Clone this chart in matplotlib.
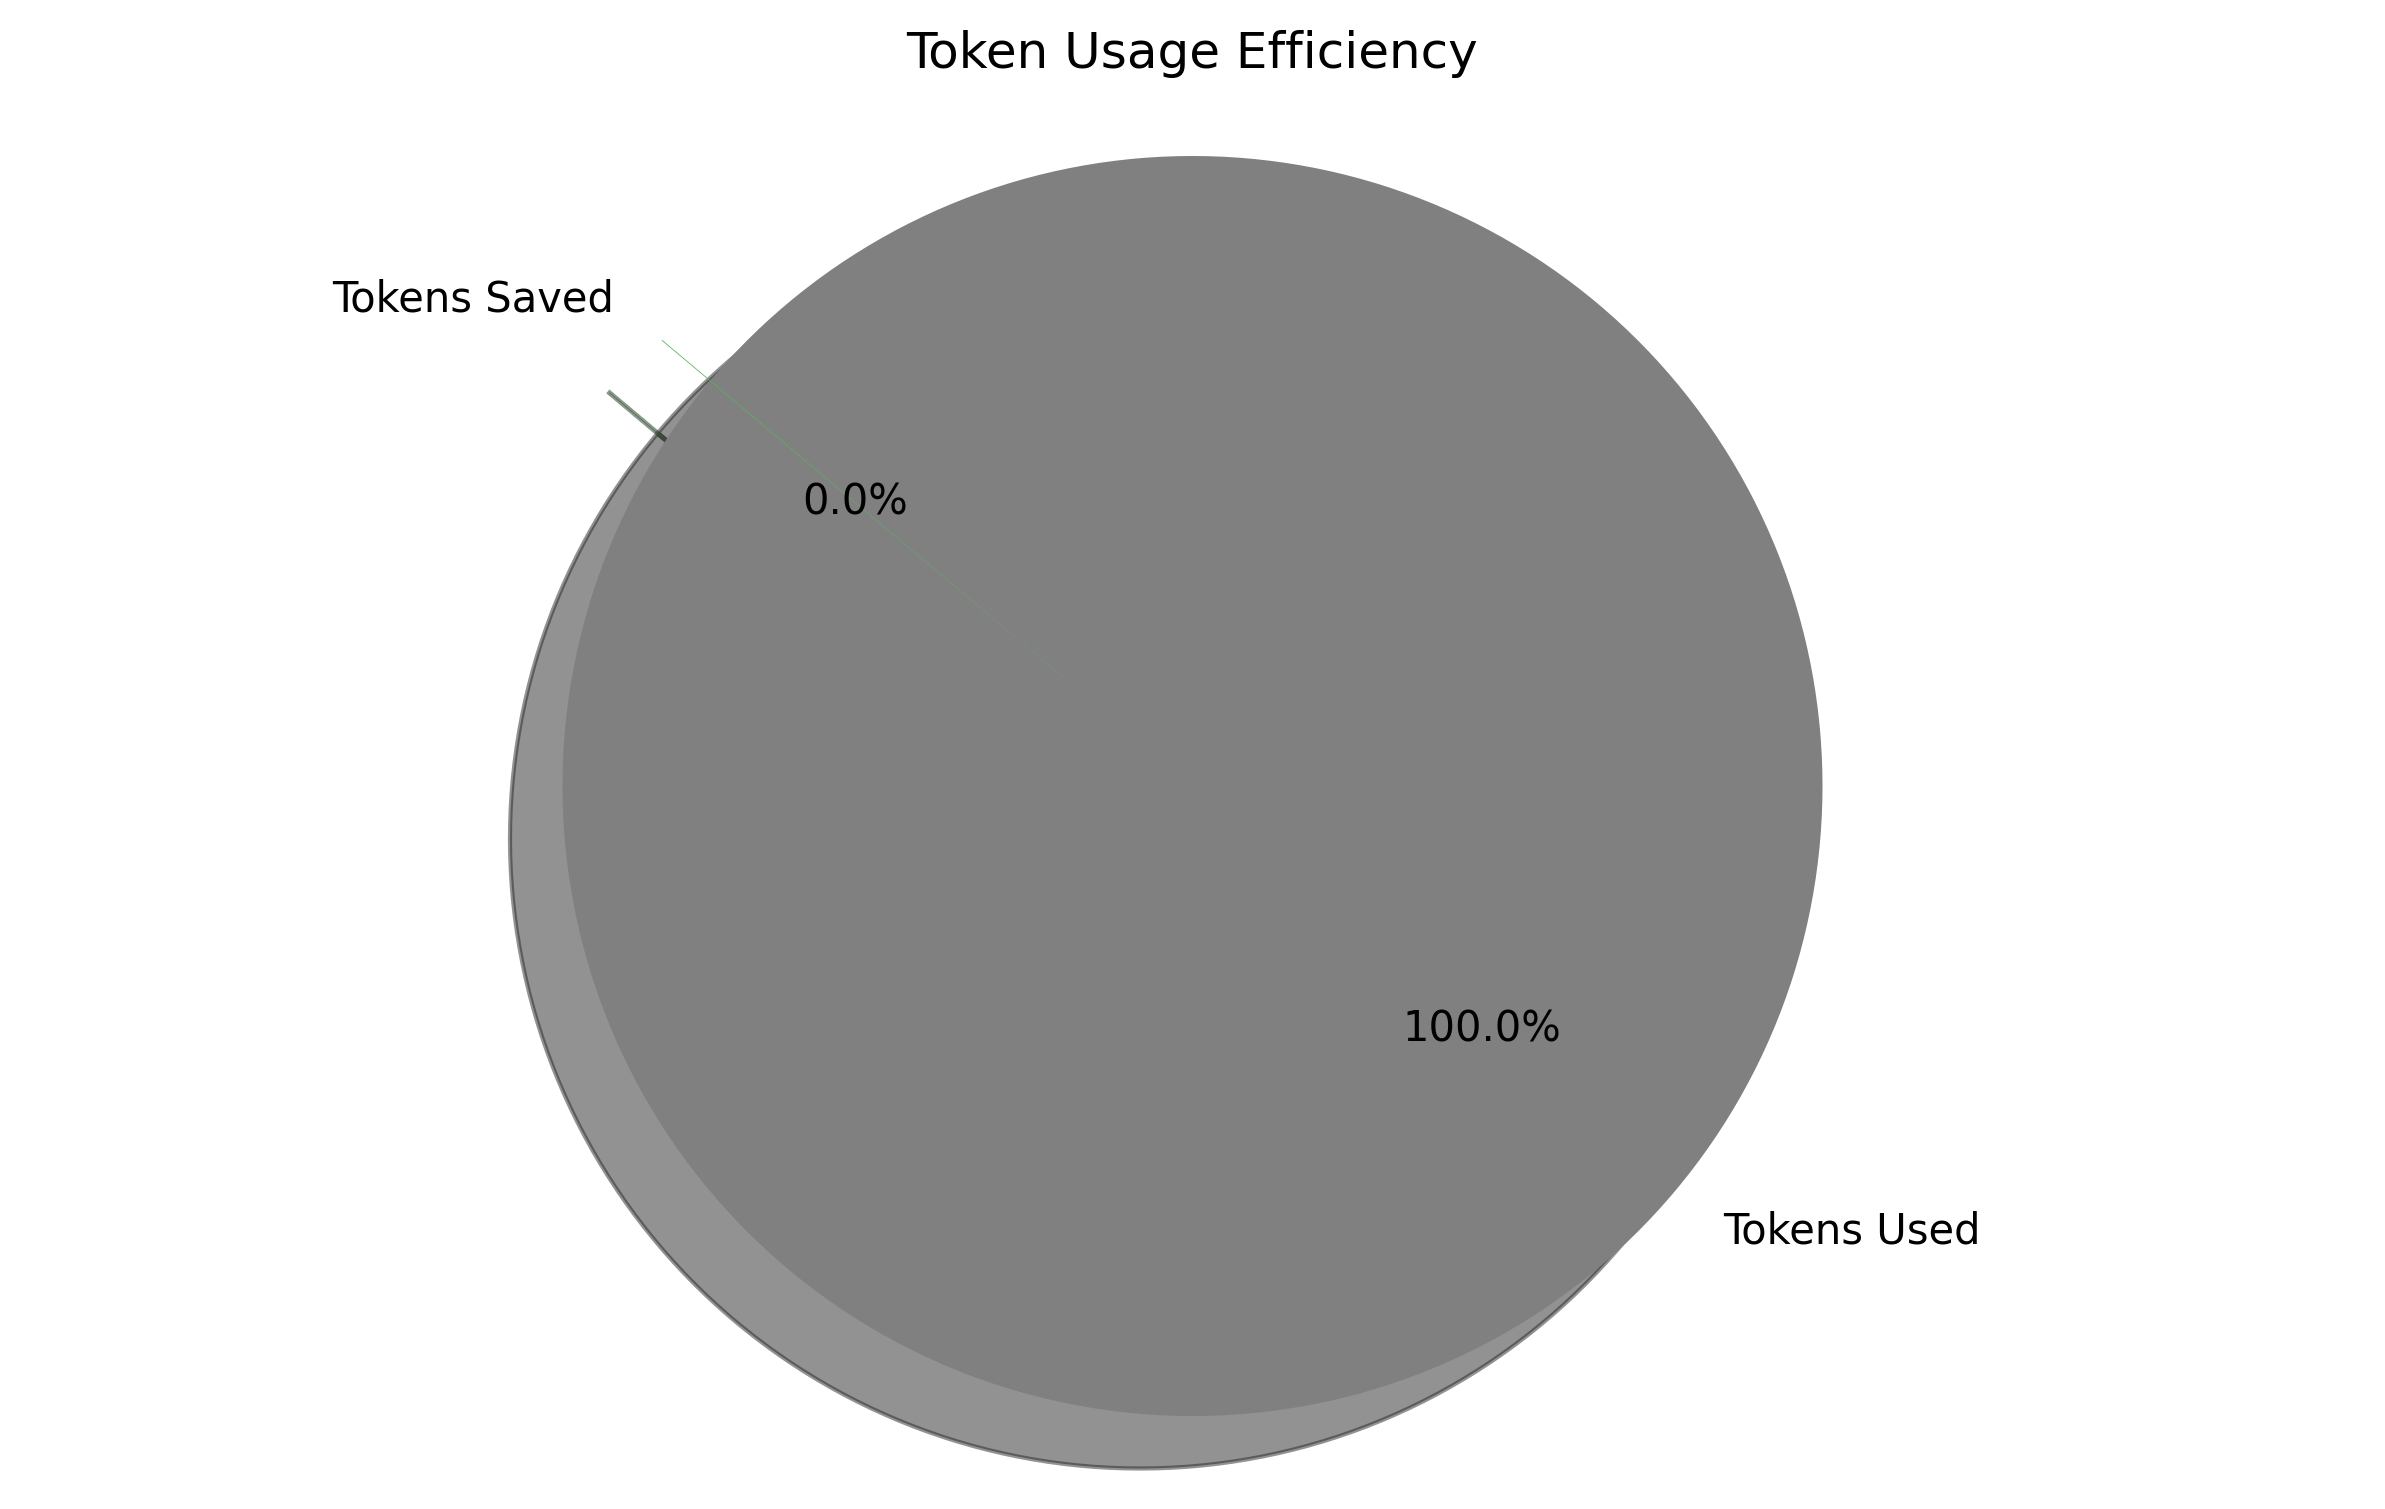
import matplotlib
matplotlib.use("Agg")
import matplotlib.pyplot as plt

labels = ["Tokens Used", "Tokens Saved"]
values = [10000, 2]
colors = ["gray", "#4CAF50"]
explode = [0, 0.1]

fig = plt.figure(figsize=(10, 6))
plt.pie(values, explode=explode, labels=labels, colors=colors,
        autopct="%1.1f%%", shadow=True, startangle=140)
plt.axis("equal")
plt.title("Token Usage Efficiency")
plt.savefig("out.png", dpi=300, bbox_inches="tight")
